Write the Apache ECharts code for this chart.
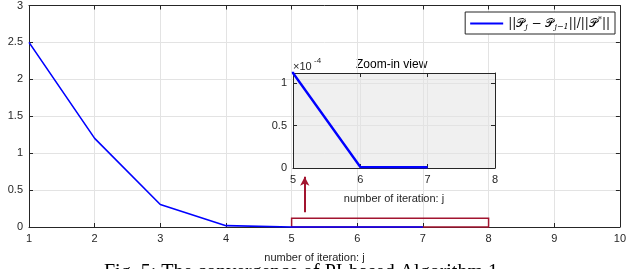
<!DOCTYPE html>
<html>
<head>
<meta charset="utf-8">
<script src="https://cdn.jsdelivr.net/npm/echarts@6/dist/echarts.min.js"></script>
<style>
  html, body { margin: 0; padding: 0; background: #fff; }
  #chart { width: 629px; height: 269px; }
</style>
</head>
<body>
<div id="chart"></div>
<script>
// iterations and relative change ||P_j - P_{j-1}|| / ||P*||
const iterations = [1, 2, 3, 4, 5, 6, 7]
const relChange = [2.5, 1.2, 0.305, 0.018, 1.12e-4, 1.2e-6, 8e-7]
const insetMax = 1.12e-4
const seriesName = 'rel'
const caption = 'Fig. 5: The convergence of PI-based Algorithm 1'

const pairs = iterations.map((x, i) => [x, relChange[i]])
const axisColor = '#262626'
const gridColor = '#e3e3e3'
const font = 'Liberation Sans, Arial, sans-serif'
const dark = '#a2142f'
const blue = '#0000ff'

const chart = echarts.init(document.getElementById('chart'))

const valAxisCommon = {
    axisLine: { show: true, onZero: false, lineStyle: { color: axisColor, width: 1 } },
    axisTick: { show: true, inside: true, length: 4, lineStyle: { color: axisColor } },
    axisLabel: { color: axisColor, fontSize: 11, fontFamily: font, margin: 6 },
    splitLine: { show: true, lineStyle: { color: gridColor, width: 1 } }
}
const boxAxis = (extra) => Object.assign({
    type: 'value',
    axisLine: { show: true, onZero: false, lineStyle: { color: axisColor, width: 1 } },
    axisTick: { show: true, inside: true, length: 4, lineStyle: { color: axisColor } },
    axisLabel: { show: false },
    splitLine: { show: false }
}, extra)

chart.setOption({
    backgroundColor: '#fff',
    animation: false,
    grid: [
        { left: 29, right: 4, top: 5, bottom: 42 },
        { left: 293, width: 202, top: 73, height: 95, show: true, backgroundColor: '#f0f0f0', borderWidth: 0 }
    ],
    legend: {
        data: [{ name: seriesName, itemStyle: { color: blue } }],
        right: 14,
        top: 12,
        padding: [4, 5, 3, 5],
        itemWidth: 33,
        itemHeight: 10,
        itemGap: 4,
        borderColor: axisColor,
        borderWidth: 1,
        backgroundColor: '#fff',
        icon: 'path://M0,4 L33,4 L33,6 L0,6 Z',
        formatter: () => '{m|||𝒫}{s|j}{m| − 𝒫}{s|j−1}{m|||/||𝒫}{p|*}{m|||}',
        textStyle: {
            rich: {
                m: { fontFamily: 'DejaVu Serif, serif', fontSize: 12, color: '#000' },
                s: { fontFamily: 'DejaVu Serif, serif', fontStyle: 'italic', fontSize: 8, color: '#000', verticalAlign: 'bottom', padding: [7, 0, 0, 0] },
                p: { fontFamily: 'DejaVu Serif, serif', fontSize: 8, color: '#000', verticalAlign: 'top', padding: [0, 0, 6, 0] }
            }
        }
    },
    xAxis: [
        Object.assign({}, valAxisCommon, {
            type: 'value', gridIndex: 0, min: 1, max: 10, interval: 1,
            name: 'number of iteration: j', nameLocation: 'middle', nameGap: 25,
            nameTextStyle: { color: axisColor, fontSize: 11, fontFamily: font, padding: [0, 20, 0, 0] }
        }),
        boxAxis({ gridIndex: 0, position: 'top', min: 1, max: 10, interval: 1 }),
        Object.assign({}, valAxisCommon, {
            type: 'value', gridIndex: 1, min: 5, max: 8, interval: 1,
            name: 'number of iteration: j', nameLocation: 'middle', nameGap: 25,
            nameTextStyle: { color: axisColor, fontSize: 11, fontFamily: font }
        }),
        boxAxis({ gridIndex: 1, position: 'top', min: 5, max: 8, interval: 1 })
    ],
    yAxis: [
        Object.assign({}, valAxisCommon, {
            type: 'value', gridIndex: 0, min: 0, max: 3, interval: 0.5
        }),
        boxAxis({ gridIndex: 0, position: 'right', min: 0, max: 3, interval: 0.5 }),
        Object.assign({}, valAxisCommon, {
            type: 'value', gridIndex: 1, min: 0, max: insetMax, interval: 0.5e-4,
            axisLabel: Object.assign({}, valAxisCommon.axisLabel, {
                formatter: (v) => String(Math.round(v * 1e5) / 10),
                showMaxLabel: false
            })
        }),
        boxAxis({ gridIndex: 1, position: 'right', min: 0, max: insetMax, interval: 0.5e-4 })
    ],
    series: [
        {
            name: seriesName,
            type: 'line',
            xAxisIndex: 0,
            yAxisIndex: 0,
            data: pairs,
            showSymbol: false,
            clip: false,
            lineStyle: { color: blue, width: 1.6 },
            itemStyle: { color: blue },
            z: 5,
            markArea: {
                silent: true,
                itemStyle: { color: 'rgba(0,0,0,0)', borderColor: dark, borderWidth: 1.5 },
                data: [[{ coord: [5, -0.04] }, { coord: [8, 0.12] }]]
            },
            markLine: {
                silent: true,
                symbol: ['none', 'arrow'],
                symbolSize: [7, 9],
                label: { show: false },
                lineStyle: { color: dark, width: 2, type: 'solid' },
                data: [[{ coord: [5.2, 0.2] }, { coord: [5.2, 0.68] }]]
            }
        },
        {
            name: 'inset',
            type: 'line',
            xAxisIndex: 2,
            yAxisIndex: 2,
            data: pairs,
            showSymbol: false,
            clip: true,
            lineStyle: { color: blue, width: 2.4 },
            z: 5
        }
    ],
    graphic: [
        {
            type: 'text', left: 293, top: 61,
            style: { text: '×10', fill: axisColor, font: '11px Liberation Sans, Arial, sans-serif' }
        },
        {
            type: 'text', left: 314, top: 57,
            style: { text: '-4', fill: axisColor, font: '8px Liberation Sans, Arial, sans-serif' }
        },
        {
            type: 'text', left: 356, top: 59,
            style: { text: 'Zoom-in view', fill: '#000', font: '12px Liberation Sans, Arial, sans-serif' }
        },
        {
            type: 'text', left: 104, top: 263,
            style: { text: caption, fill: '#000', font: '20px Liberation Serif, Times New Roman, serif' }
        }
    ]
})
</script>
</body>
</html>
